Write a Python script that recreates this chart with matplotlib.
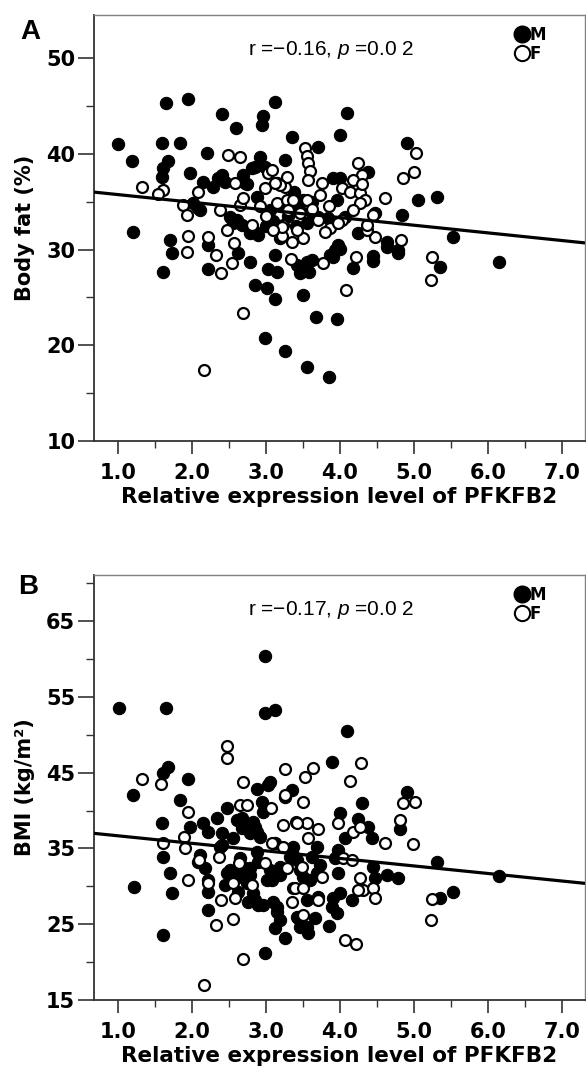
import matplotlib
matplotlib.use("Agg")
import matplotlib.pyplot as plt
from matplotlib.lines import Line2D
from matplotlib.ticker import MultipleLocator, FormatStrFormatter
import numpy as np

# ---- data: panel A (body fat) ----
a_m_x = [1.00, 1.19, 1.65, 1.95, 1.59, 1.84, 1.68, 1.61, 1.60, 1.97, 2.20, 2.41, 2.59, 2.96, 2.95, 3.12,
         2.15, 2.29, 2.40, 2.72, 2.92, 2.85, 3.26, 3.35, 1.20, 2.08, 1.70, 1.73, 1.61, 2.22, 2.22, 2.62,
         2.78, 2.85, 3.01, 3.12, 2.99, 3.26, 3.03, 3.15, 3.12, 2.78, 2.89, 2.55, 3.46, 3.58, 3.50, 5.53,
         6.15, 5.35, 4.78, 4.63, 4.45, 4.18, 4.24, 3.90, 4.00, 3.62, 3.68, 3.96, 3.55, 3.85, 4.09, 4.00,
         4.90, 3.70, 3.90, 4.00, 4.38, 5.05, 5.31, 4.84, 4.47, 3.96, 4.07, 3.50, 2.35, 2.45, 2.69, 2.81,
         2.99, 2.74, 2.01, 2.11, 2.51, 2.61, 2.68, 2.85, 2.88, 3.05, 3.42, 3.55, 3.19, 3.62, 3.70, 3.84,
         4.64, 4.78, 4.45, 3.93, 3.97, 3.86, 3.30, 3.40, 3.20, 3.45, 3.55, 3.10, 3.38, 3.62, 3.15, 3.00]
a_m_y = [41.0, 39.2, 45.3, 45.7, 41.1, 41.1, 39.3, 38.5, 37.6, 38.0, 40.1, 44.2, 42.7, 43.9, 43.0, 45.4,
         37.1, 36.5, 37.8, 37.0, 39.7, 38.6, 39.4, 41.8, 31.8, 34.3, 31.0, 29.6, 27.7, 30.5, 28.0, 29.6,
         28.7, 26.3, 26.0, 24.8, 20.8, 19.4, 28.0, 27.7, 29.4, 31.7, 31.5, 32.8, 27.6, 27.7, 25.3, 31.3,
         28.7, 28.2, 29.6, 30.3, 28.8, 28.1, 31.7, 29.2, 30.1, 28.9, 23.0, 22.7, 17.7, 16.7, 44.3, 42.0,
         41.1, 40.7, 37.5, 37.5, 38.1, 35.2, 35.5, 33.6, 33.8, 35.2, 33.4, 35.2, 37.5, 37.1, 37.8, 38.5,
         38.6, 36.8, 34.9, 34.1, 33.4, 33.1, 32.6, 31.8, 35.5, 34.1, 28.4, 28.7, 31.2, 33.8, 33.4, 33.3,
         30.8, 30.0, 29.3, 30.0, 30.5, 29.4, 33.5, 32.5, 34.5, 34.2, 32.8, 33.0, 36.0, 35.0, 37.0, 32.5]

a_f_x = [1.32, 1.61, 1.54, 2.08, 2.58, 1.88, 1.93, 2.38, 2.65, 2.69, 2.99, 3.03, 3.08, 3.15, 3.26, 3.28,
         3.30, 3.53, 3.55, 3.57, 3.59, 3.55, 2.49, 2.65, 1.94, 1.93, 2.22, 2.32, 2.39, 2.54, 2.57, 2.47,
         2.69, 2.16, 3.23, 3.35, 3.34, 3.21, 5.24, 5.23, 4.82, 4.47, 4.22, 4.08, 3.77, 3.50, 5.03, 5.00,
         4.85, 4.24, 4.30, 4.18, 4.61, 4.03, 4.14, 3.73, 3.28, 3.19, 4.27, 4.34, 3.36, 3.46, 3.70, 3.86,
         4.03, 4.36, 2.81, 3.22, 4.30, 4.27, 3.57, 4.18, 4.45, 3.97, 4.36, 3.80, 3.00, 3.10, 3.42, 3.62,
         2.92, 3.12, 3.75, 3.85]
a_f_y = [36.5, 36.2, 35.8, 36.0, 37.0, 34.7, 33.6, 34.1, 34.7, 35.4, 36.4, 38.0, 38.3, 34.9, 36.5, 35.2,
         34.1, 40.6, 39.8, 39.0, 38.2, 35.2, 39.9, 39.7, 31.4, 29.7, 31.3, 29.4, 27.5, 28.6, 30.7, 32.0,
         23.4, 17.4, 32.6, 30.8, 29.0, 31.4, 29.2, 26.8, 31.0, 31.3, 29.2, 25.8, 28.6, 31.2, 40.1, 38.1,
         37.5, 39.0, 37.8, 37.3, 35.4, 36.4, 36.0, 35.7, 37.6, 36.7, 35.9, 35.2, 35.2, 33.8, 33.1, 32.3,
         33.1, 32.0, 32.6, 32.4, 36.8, 34.9, 37.3, 34.1, 33.6, 32.8, 32.6, 31.8, 33.5, 32.0, 32.0, 34.2,
         34.6, 36.9, 37.0, 34.5]

# ---- data: panel B (BMI) ----
b_m_x = [1.01, 1.65, 2.99, 2.99, 3.12, 1.68, 1.61, 1.95, 1.20, 3.05, 2.88, 3.35, 4.09, 3.89, 4.91, 1.84,
         1.59, 1.61, 1.70, 1.73, 1.22, 1.61, 1.97, 2.15, 2.22, 2.34, 2.08, 2.18, 2.22, 2.22, 2.22, 2.47,
         2.41, 2.41, 2.55, 2.61, 2.68, 2.85, 2.96, 3.03, 3.26, 2.65, 2.51, 2.62, 2.69, 2.78, 2.76, 2.89,
         2.82, 2.99, 3.12, 3.26, 3.15, 3.10, 3.01, 3.05, 3.19, 2.89, 2.88, 2.92, 2.82, 3.36, 3.42, 4.30,
         4.00, 4.24, 4.38, 4.43, 4.07, 4.81, 5.31, 6.15, 5.53, 5.35, 4.78, 4.64, 4.47, 4.45, 4.16, 4.00,
         3.91, 3.89, 3.96, 3.85, 3.57, 3.66, 3.46, 3.43, 3.97, 3.93, 3.69, 3.62, 3.73, 3.59, 3.46, 3.32,
         3.36, 3.19, 3.70, 3.19, 2.68, 2.95, 2.88, 2.38, 2.78, 3.12, 2.11, 2.47, 2.65, 2.78, 2.45, 2.74,
         2.62, 2.85, 2.96, 3.15, 3.08, 3.42, 3.50, 3.55, 3.55, 3.97, 3.97, 3.69]
b_m_y = [53.5, 53.5, 60.4, 52.9, 53.3, 45.7, 44.9, 44.2, 42.0, 43.8, 42.8, 42.7, 50.5, 46.4, 42.5, 41.4,
         38.4, 33.9, 31.8, 29.1, 29.9, 23.6, 37.8, 38.4, 37.2, 39.0, 33.2, 32.4, 30.8, 29.2, 26.9, 40.3,
         37.0, 35.4, 36.4, 38.7, 37.7, 37.8, 39.8, 43.4, 41.8, 33.7, 32.2, 31.2, 32.5, 31.5, 27.9, 27.5,
         29.1, 21.2, 24.5, 23.2, 26.6, 27.9, 30.8, 32.2, 31.5, 33.2, 34.5, 36.5, 38.5, 34.1, 26.0, 41.0,
         39.7, 38.9, 37.8, 36.4, 36.4, 37.6, 33.2, 31.4, 29.2, 28.5, 31.1, 31.5, 31.1, 32.5, 28.2, 29.1,
         28.5, 27.3, 26.5, 24.8, 23.8, 25.8, 24.6, 25.8, 34.8, 33.7, 35.2, 33.9, 32.8, 30.8, 32.2, 33.9,
         35.2, 32.5, 28.6, 25.6, 39.0, 41.1, 37.2, 35.2, 37.0, 35.7, 34.1, 31.8, 31.9, 32.4, 30.2, 30.4,
         29.2, 28.2, 27.5, 27.3, 30.8, 33.5, 31.2, 28.2, 24.6, 33.9, 31.8, 31.8]

b_f_x = [1.32, 1.58, 2.47, 2.47, 2.69, 3.26, 4.28, 4.14, 3.64, 3.53, 1.95, 1.61, 1.89, 1.91, 1.95, 2.09,
         2.22, 2.36, 2.39, 2.32, 2.55, 2.69, 2.16, 2.58, 2.55, 2.64, 2.65, 2.74, 3.07, 3.23, 3.41, 3.26,
         2.99, 3.08, 3.23, 3.28, 3.35, 3.36, 2.81, 3.50, 4.85, 5.01, 4.81, 4.99, 4.61, 3.97, 4.18, 4.27,
         3.70, 3.55, 3.42, 3.57, 3.49, 3.76, 4.04, 4.16, 4.27, 4.31, 4.45, 4.47, 4.24, 3.39, 3.50, 3.70,
         3.50, 5.24, 5.23, 4.07, 4.22]
b_f_y = [44.2, 43.5, 48.5, 46.9, 43.8, 45.5, 46.3, 43.9, 45.6, 44.4, 39.8, 35.7, 36.5, 35.1, 30.8, 33.5,
         30.4, 33.9, 28.2, 24.9, 25.7, 20.4, 17.0, 28.5, 30.4, 33.1, 40.7, 40.7, 40.3, 38.1, 38.5, 42.0,
         33.1, 35.7, 35.2, 32.4, 27.9, 29.8, 30.2, 41.1, 41.0, 41.2, 38.7, 35.6, 35.7, 38.3, 37.2, 37.8,
         37.6, 38.4, 38.4, 36.4, 32.5, 31.2, 33.7, 33.5, 31.1, 29.5, 29.8, 28.5, 29.5, 29.8, 29.8, 28.2,
         26.2, 28.3, 25.6, 22.9, 22.4]

# regression lines (intercept, slope) and stats text
fit_a = (36.54, -0.80)
fit_b = (37.67, -0.995)
stat_a = "r =\u22120.16, $p$ =0.0 2"
stat_b = "r =\u22120.17, $p$ =0.0 2"

xticks = [1.0, 2.0, 3.0, 4.0, 5.0, 6.0, 7.0]
xlim = (0.676, 7.31)
a_yticks = [10, 20, 30, 40, 50]
a_yminor = [15, 25, 35, 45]
b_yticks = [15, 25, 35, 45, 55, 65]
b_yminor = [20, 30, 40, 50, 60, 70]

plt.rcParams['font.family'] = 'DejaVu Sans'
plt.rcParams['mathtext.fontset'] = 'custom'
plt.rcParams['mathtext.it'] = 'Liberation Sans:italic'
plt.rcParams['mathtext.rm'] = 'Liberation Sans'

fig = plt.figure(figsize=(5.86, 10.77), dpi=100)
W, H = 586.0, 1077.0


def make_panel(box, mx, my, fx, fy, fit, stat, ylabel, ylim, yticks, yminor, letter, letter_xy):
    left, top, right, bottom = box
    ax = fig.add_axes([left / W, 1 - bottom / H, (right - left) / W, (bottom - top) / H])

    ax.scatter(mx, my, s=78, c='black', edgecolors='black', linewidths=0.8, zorder=2)
    ax.scatter(fx, fy, s=62, facecolors='white', edgecolors='black', linewidths=1.6, zorder=2)

    xs = np.array(xlim)
    ax.plot(xs, fit[0] + fit[1] * xs, color='black', lw=2.3, zorder=3, solid_capstyle='butt')

    ax.set_xlim(*xlim)
    ax.set_ylim(*ylim)
    ax.set_xticks(xticks)
    ax.xaxis.set_major_formatter(FormatStrFormatter('%.1f'))
    ax.xaxis.set_minor_locator(MultipleLocator(0.5))
    ax.set_yticks(yticks)
    ax.set_yticks(yminor, minor=True)

    for side in ['left', 'bottom']:
        ax.spines[side].set_color('#333333')
        ax.spines[side].set_linewidth(1.3)
    for side in ['top', 'right']:
        ax.spines[side].set_color('#808080')
        ax.spines[side].set_linewidth(1.0)

    ax.tick_params(axis='x', which='major', length=9, width=1.2, color='#333333', pad=7,
                   labelsize=15)
    ax.tick_params(axis='x', which='minor', length=5, width=1.0, color='#333333')
    ax.tick_params(axis='y', which='major', length=11.5, width=1.2, color='#333333', pad=2,
                   labelsize=15)
    ax.tick_params(axis='y', which='minor', length=6, width=1.0, color='#333333')
    for lab in ax.get_xticklabels() + ax.get_yticklabels():
        lab.set_fontweight('bold')

    ax.set_xlabel('Relative expression level of PFKFB2', fontsize=15.5, fontweight='bold')
    ax.set_ylabel(ylabel, fontsize=15, fontweight='bold')
    ax.xaxis.set_label_coords(0.5, -0.108)
    ax.yaxis.set_label_coords(-0.12, 0.5)

    ax.text(0.483, 0.918, stat, transform=ax.transAxes, ha='center', va='center',
            fontsize=15, family='Liberation Sans')

    handles = [Line2D([], [], marker='o', ls='none', ms=12, mfc='black', mec='black', label='M'),
               Line2D([], [], marker='o', ls='none', ms=11, mfc='white', mec='black', mew=1.5,
                      label='F')]
    ax.legend(handles=handles, loc='upper left', bbox_to_anchor=(0.842, 0.99), frameon=False,
              handlelength=0.9, handletextpad=0.05, labelspacing=0.05, borderaxespad=0,
              prop={'weight': 'bold', 'size': 12})

    fig.text(letter_xy[0] / W, 1 - letter_xy[1] / H, letter, fontsize=20, fontweight='bold',
             ha='center', va='center', family='Liberation Sans')
    return ax


make_panel((94, 15, 585, 441), a_m_x, a_m_y, a_f_x, a_f_y, fit_a, stat_a, 'Body fat (%)',
           (10, 54.5), a_yticks, a_yminor, 'A', (30, 32))
make_panel((94, 575, 585, 1000), b_m_x, b_m_y, b_f_x, b_f_y, fit_b, stat_b, 'BMI (kg/m\u00b2)',
           (15, 71.1), b_yticks, b_yminor, 'B', (28, 587))

fig.savefig('out.png', dpi=100, facecolor='white')
